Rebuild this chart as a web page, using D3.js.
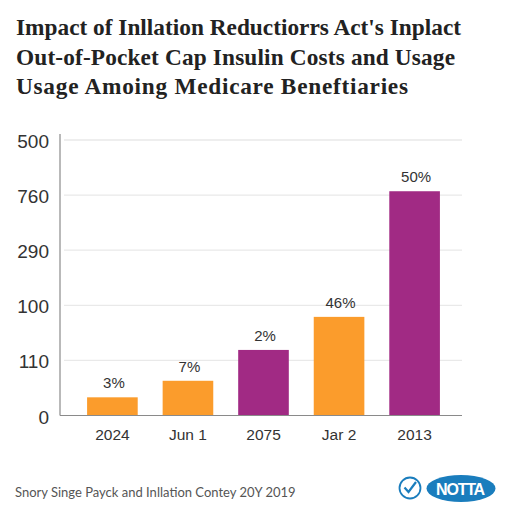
<!DOCTYPE html>
<html>
<head>
<meta charset="utf-8">
<script src="https://cdn.jsdelivr.net/npm/d3@7"></script>
<style>
  html, body { margin: 0; padding: 0; background: #fff; }
  svg { display: block; }
</style>
</head>
<body>
<div id="chart"></div>
<script>
// data
const categories = ["2024", "Jun 1", "2075", "Jar 2", "2013"];
const values = [33, 63, 119, 179, 407];
const barLabels = ["3%", "7%", "2%", "46%", "50%"];
const barGroups = ["orange", "orange", "purple", "orange", "purple"];
const tickValues = [0, 100, 200, 300, 400, 500];
const tickLabels = ["0", "110", "100", "290", "760", "500"];
const titleLines = [
  "Impact of Inllation Reductiorrs Act's Inplact",
  "Out-of-Pocket Cap Insulin Costs and Usage",
  "Usage Amoing Medicare Beneftiaries"
];
const footerText = "Snory Singe Payck and Inllation Contey 20Y 2019";
const logoText = "NOTTA";

const width = 512, height = 512;
const margin = {top: 140, right: 50, bottom: 96.5, left: 60};
const titleWidths = [445, 439, 392];

const svg = d3.select("#chart").append("svg")
    .attr("width", width)
    .attr("height", height);

// title
svg.selectAll(".title").data(titleLines).enter().append("text")
    .attr("class", "title")
    .attr("x", 16)
    .attr("y", function(d, i) { return 35 + i * 29.5; })
    .attr("textLength", function(d, i) { return titleWidths[i]; })
    .style("font-family", "'Liberation Serif', serif")
    .style("font-weight", "bold")
    .style("font-size", "23.3px")
    .style("fill", "#222")
    .text(function(d) { return d; });

let x = d3.scaleBand()
    .domain(categories)
    .range([margin.left + 15, width - margin.right - 10])
    .paddingInner(0.33)
    .paddingOuter(0.16);

let y = d3.scaleLinear()
    .domain([0, 500])
    .range([height - margin.bottom, margin.top]);

// gridlines
svg.append("g").selectAll("line").data(tickValues.slice(1)).enter().append("line")
    .attr("x1", margin.left + 4)
    .attr("x2", width - margin.right)
    .attr("y1", function(d) { return y(d); })
    .attr("y2", function(d) { return y(d); })
    .attr("stroke", "#e9e9e9")
    .attr("stroke-width", 1.3);

// bars
let color = d3.scaleOrdinal()
    .domain(["orange", "purple"])
    .range(["#fb9c2c", "#a12a84"]);

svg.append("g").selectAll("rect").data(values).enter().append("rect")
    .attr("x", function(d, i) { return x(categories[i]); })
    .attr("y", function(d) { return y(d); })
    .attr("width", x.bandwidth())
    .attr("height", function(d) { return y(0) - y(d); })
    .attr("fill", function(d, i) { return color(barGroups[i]); });

// value labels
svg.append("g").selectAll("text").data(values).enter().append("text")
    .attr("x", function(d, i) { return x(categories[i]) + x.bandwidth() / 2 + 1.5; })
    .attr("y", function(d) { return y(d) - 9; })
    .style("text-anchor", "middle")
    .style("font-family", "'Liberation Sans', sans-serif")
    .style("font-size", "15px")
    .style("fill", "#333")
    .text(function(d, i) { return barLabels[i]; });

// y axis
let yAxis = d3.axisLeft(y)
    .tickValues(tickValues)
    .tickFormat(function(d, i) { return tickLabels[i]; })
    .tickSize(0)
    .tickPadding(11);

let yG = svg.append("g")
    .attr("transform", `translate(${margin.left}, 1.5)`)
    .call(yAxis);
yG.select(".domain").remove();
yG.selectAll("text")
    .style("font-family", "'Liberation Sans', sans-serif")
    .style("font-size", "19px")
    .style("fill", "#333");

svg.append("line")
    .attr("x1", margin.left).attr("x2", margin.left)
    .attr("y1", margin.top - 6).attr("y2", y(0))
    .attr("stroke", "#8a8a8a").attr("stroke-width", 1.2);

// x axis
let xAxis = d3.axisBottom(x).tickSize(0).tickPadding(13);
let xG = svg.append("g")
    .attr("transform", `translate(0, ${y(0)})`)
    .call(xAxis);
xG.select(".domain").remove();
xG.selectAll("text")
    .style("font-family", "'Liberation Sans', sans-serif")
    .style("font-size", "15.5px")
    .style("fill", "#333");

svg.append("line")
    .attr("x1", margin.left).attr("x2", width - margin.right)
    .attr("y1", y(0)).attr("y2", y(0))
    .attr("stroke", "#8a8a8a").attr("stroke-width", 1.2);

// footer
svg.append("text")
    .attr("x", 15)
    .attr("y", 496.5)
    .style("font-family", "Lato, sans-serif")
    .style("font-size", "13px")
    .style("fill", "#555")
    .text(footerText);

// logo
let logo = svg.append("g");
logo.append("circle")
    .attr("cx", 410).attr("cy", 488).attr("r", 10.5)
    .attr("fill", "none").attr("stroke", "#1a7dbd").attr("stroke-width", 1.8);
logo.append("path")
    .attr("d", d3.line()([[404.5, 487.5], [408.5, 492], [416, 482]]))
    .attr("fill", "none").attr("stroke", "#1a7dbd").attr("stroke-width", 2.2);
logo.append("ellipse")
    .attr("cx", 461).attr("cy", 488.5).attr("rx", 34.5).attr("ry", 13.5)
    .attr("fill", "#1a7dbd");
logo.append("text")
    .attr("x", 460).attr("y", 494.5)
    .style("text-anchor", "middle")
    .style("font-family", "'Liberation Sans', sans-serif")
    .style("font-weight", "bold")
    .style("font-size", "16px")
    .style("letter-spacing", "-1.2px")
    .style("fill", "#fff")
    .text(logoText);
</script>
</body>
</html>
